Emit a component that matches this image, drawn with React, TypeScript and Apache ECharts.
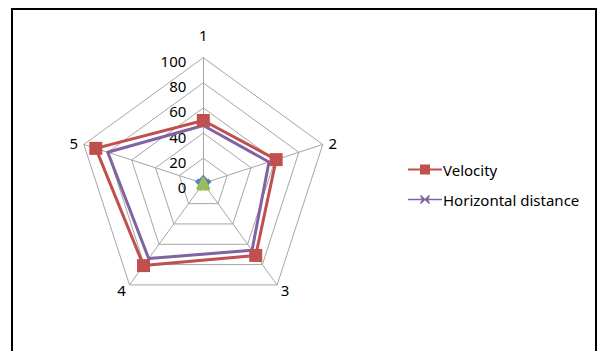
import React, { useEffect, useRef } from "react";
import * as echarts from "echarts";

const indicatorNames = ["1", "2", "3", "4", "5"];
const tickMax = 100;
const velocity = [50, 61, 71, 81, 90];
const horizontalDistance = [46, 55, 66, 74, 80];
const seriesThree = [4, 4, 4, 4, 4];
const seriesFour = [1, 1, 1, 1, 1];

const RED = "#C0504D";
const PURPLE = "#8064A2";
const BLUE = "#4F81BD";
const GREEN = "#9BBB59";
const FONT = "'Noto Sans', 'DejaVu Sans', sans-serif";

// ECharts lays radar axes out counter-clockwise; walk the categories in
// reverse (keeping the first on top) so they read clockwise.
const order = [0, 4, 3, 2, 1];
const arrange = (arr: any[]) => order.map((i) => arr[i]);

// legend icons: a line with a square marker, and a line with a small cross
const iconSquare =
  "path://M0,4L12,4L12,0L22,0L22,4L34,4L34,6L22,6L22,10L12,10L12,6L0,6Z";
const iconCross =
  "path://M0,4.3L13.5,4.3L12,1L13,0.5L17,4.3L21,0.5L22,1L20.5,4.3L34,4.3L34,5.7L20.5,5.7L22,9L21,9.5L17,5.7L13,9.5L12,9L13.5,5.7L0,5.7Z";

export default function App() {
  const ref = useRef<HTMLDivElement>(null);

  useEffect(() => {
    if (!ref.current) return;
    const chart = echarts.init(ref.current, null, { renderer: "svg" });
    // tick values sit just below their ring
    const tickLabel = {
      show: true,
      color: "#000",
      fontSize: 15,
      fontFamily: FONT,
      margin: 17,
      verticalAlign: "top",
      lineHeight: 7,
    };
    chart.setOption({
      animation: false,
      backgroundColor: "#ffffff",
      textStyle: { fontFamily: FONT },
      graphic: [
        {
          type: "rect",
          shape: { x: 12, y: 9, width: 584, height: 400 },
          style: { fill: "none", stroke: "#000", lineWidth: 2 },
          silent: true,
        },
      ],
      legend: {
        data: [
          { name: "Velocity", icon: iconSquare },
          { name: "Horizontal distance", icon: iconCross },
        ],
        orient: "vertical",
        left: 403,
        top: 157,
        itemWidth: 34,
        itemHeight: 10,
        itemGap: 15,
        textStyle: { fontFamily: FONT, fontSize: 15, color: "#000", padding: [0, 0, 0, -4] },
      },
      radar: {
        center: [203.3, 183.3],
        radius: 125.6,
        startAngle: 90,
        shape: "polygon",
        splitNumber: 5,
        axisName: { color: "#000", fontSize: 15, fontFamily: FONT },
        nameGap: 6,
        indicator: arrange(indicatorNames).map((n, i) =>
          i === 0
            ? { name: n, max: tickMax, min: 0, nameGap: 15, axisLabel: tickLabel }
            : { name: n, max: tickMax, min: 0, nameGap: 6, axisLabel: { show: false } }
        ),
        axisLine: { lineStyle: { color: "#A6A6A6", width: 1 } },
        splitLine: { lineStyle: { color: "#A6A6A6", width: 1 } },
        splitArea: { show: false },
        axisLabel: tickLabel,
      },
      series: [
        {
          type: "radar",
          data: [
            {
              name: "Velocity",
              value: arrange(velocity),
              symbol: "rect",
              symbolSize: 13,
              lineStyle: { color: RED, width: 3 },
              itemStyle: { color: RED },
            },
            {
              name: "Horizontal distance",
              value: arrange(horizontalDistance),
              symbol: "none",
              lineStyle: { color: PURPLE, width: 3 },
              itemStyle: { color: PURPLE },
            },
            {
              name: "Series 3",
              value: arrange(seriesThree),
              symbol: "diamond",
              symbolSize: 7,
              lineStyle: { color: BLUE, width: 3 },
              itemStyle: { color: BLUE },
              areaStyle: { color: BLUE, opacity: 1 },
            },
            {
              name: "Series 4",
              value: arrange(seriesFour),
              symbol: "triangle",
              symbolSize: 12,
              lineStyle: { color: GREEN, width: 3 },
              itemStyle: { color: GREEN },
            },
          ],
        },
      ],
    });
    return () => chart.dispose();
  }, []);

  return (
    <div
      ref={ref}
      style={{ position: "absolute", left: 0, top: 0, width: 597, height: 351 }}
    />
  );
}
